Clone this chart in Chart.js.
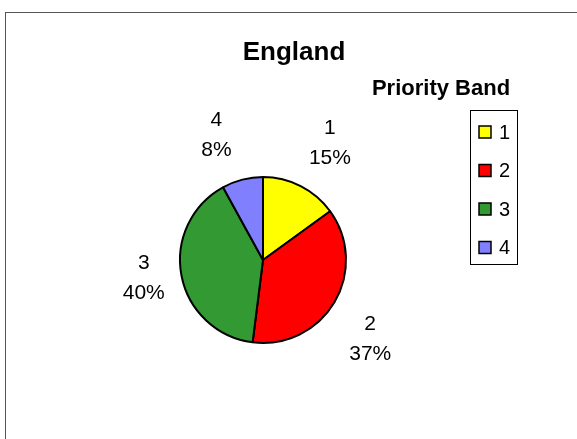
<!DOCTYPE html>
<html>
<head>
<meta charset="utf-8">
<script src="https://cdn.jsdelivr.net/npm/chart.js@4/dist/chart.umd.min.js"></script>
<style>
  html, body { margin: 0; padding: 0; background: #fff; }
  #wrap { width: 577px; height: 439px; position: relative; }
</style>
</head>
<body>
<div id="wrap"><canvas id="pieChart"></canvas></div>
<script>
// dados
const bandas = ['1', '2', '3', '4'];
const percentuais = [15, 37, 40, 8];
const cores = ['#FFFF00', '#FF0000', '#339933', '#8080FF'];
const tituloGrafico = 'England';
const tituloLegenda = 'Priority Band';

const fonte = 'Arial, "Liberation Sans", sans-serif';

// moldura, titulo, legenda e rotulos
const extras = {
    id: 'extras',
    afterDraw(chart) {
        const c = chart.ctx;
        c.save();

        // moldura externa
        c.strokeStyle = '#555';
        c.lineWidth = 1;
        c.strokeRect(5.5, 12.5, 600, 500);

        // titulo
        c.fillStyle = '#000';
        c.textAlign = 'center';
        c.textBaseline = 'middle';
        c.font = 'bold 26px ' + fonte;
        c.fillText(tituloGrafico, 294, 53);

        // titulo da legenda
        c.font = 'bold 22px ' + fonte;
        c.fillText(tituloLegenda, 441, 89);

        // caixa da legenda
        c.strokeStyle = '#000';
        c.lineWidth = 1;
        c.strokeRect(470.5, 110.5, 47, 154);
        c.font = '20px ' + fonte;
        c.textAlign = 'left';
        bandas.forEach((b, i) => {
            const y = 132 + i * 38.5;
            c.fillStyle = cores[i];
            c.fillRect(479, y - 6, 12, 12);
            c.lineWidth = 1.5;
            c.strokeRect(479, y - 6, 12, 12);
            c.fillStyle = '#000';
            c.fillText(b, 499, y + 1);
        });

        // rotulos das fatias
        const meta = chart.getDatasetMeta(0);
        const total = percentuais.reduce((a, v) => a + v, 0);
        c.font = '21px ' + fonte;
        c.textAlign = 'center';
        meta.data.forEach((arc, i) => {
            const p = arc.getProps(['x', 'y', 'startAngle', 'endAngle', 'outerRadius'], true);
            const meio = (p.startAngle + p.endAngle) / 2;
            const pct = Math.round(percentuais[i] / total * 100) + '%';
            const cos = Math.cos(meio), sin = Math.sin(meio);
            const r = p.outerRadius + 16;
            const fy = Math.min(1, Math.max(0, (Math.abs(sin) - 0.2) / 0.3));
            const cx = p.x + cos * r + Math.sign(cos) * 22;
            const cy = p.y + sin * r + Math.sign(sin) * 29 * fy;
            c.fillText(bandas[i], cx, cy - 15);
            c.fillText(pct, cx, cy + 15);
        });

        c.restore();
    }
};

const ctx = document.getElementById('pieChart').getContext('2d');
const grafico = new Chart(ctx, {
    type: 'pie',
    data: {
        labels: bandas,
        datasets: [{
            data: percentuais,
            backgroundColor: cores,
            borderColor: '#000',
            borderWidth: 2
        }]
    },
    options: {
        responsive: true,
        maintainAspectRatio: false,
        animation: false,
        layout: {
            padding: { left: 179, top: 176, right: 230, bottom: 95 }
        },
        plugins: {
            legend: { display: false },
            tooltip: { enabled: false }
        }
    },
    plugins: [extras]
});
</script>
</body>
</html>
